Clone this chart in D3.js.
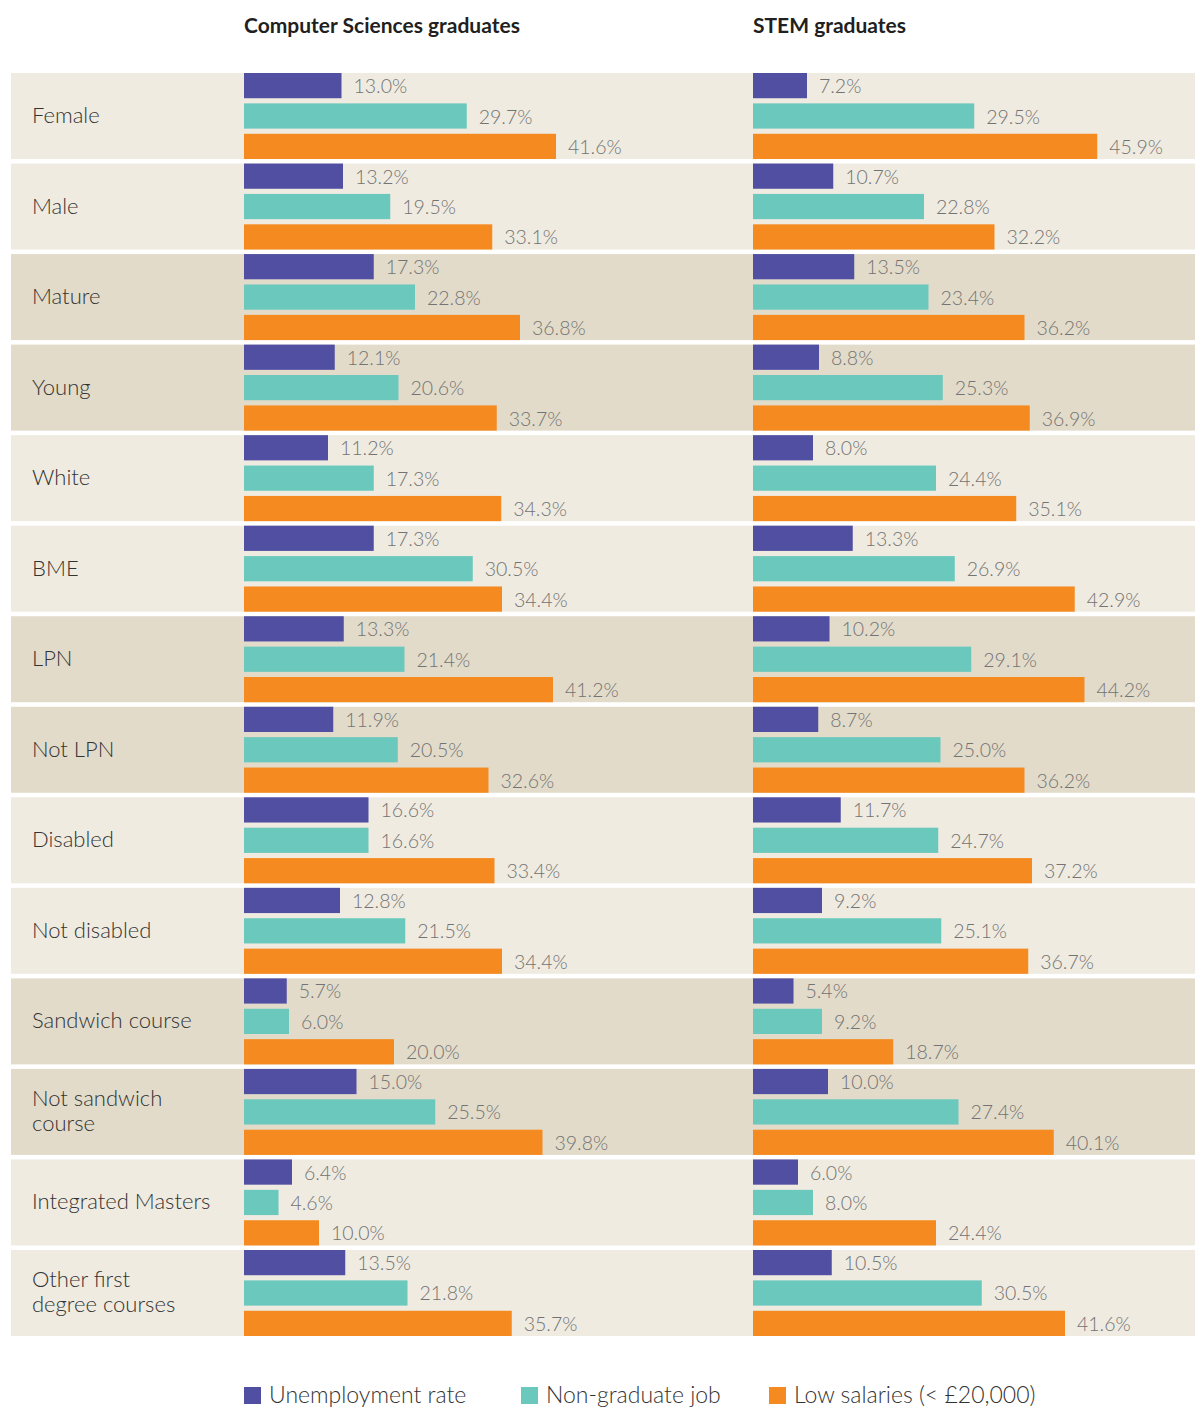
<!DOCTYPE html>
<html lang="en">
<head>
  <meta charset="UTF-8">
  <title>Computer Sciences vs STEM graduates</title>
  <script src="https://d3js.org/d3.v7.min.js"></script>
  <style>
    * { margin: 0; padding: 0; box-sizing: border-box; }
    body { background: #fff; font-family: 'Lato', 'Open Sans', sans-serif; }
    .head { font-weight: 700; font-size: 21px; fill: #231f20; }
    .cat { font-weight: 300; font-size: 22px; fill: #333; }
    .val { font-weight: 300; font-size: 19.5px; fill: #737373; }
    .leg { font-weight: 300; font-size: 23px; fill: #333; }
  </style>
</head>
<body>
  <svg id="chart" width="1195" height="1407"></svg>
  <script>
    // data
    var categories = ["Female", "Male", "Mature", "Young", "White", "BME", "LPN", "Not LPN",
      "Disabled", "Not disabled", "Sandwich course", "Not sandwich course",
      "Integrated Masters", "Other first degree courses"];
    var seriesNames = ["Unemployment rate", "Non-graduate job", "Low salaries (< £20,000)"];
    var panelTitles = ["Computer Sciences graduates", "STEM graduates"];

    var csUnemployment = [13.0, 13.2, 17.3, 12.1, 11.2, 17.3, 13.3, 11.9, 16.6, 12.8, 5.7, 15.0, 6.4, 13.5];
    var csNonGraduate  = [29.7, 19.5, 22.8, 20.6, 17.3, 30.5, 21.4, 20.5, 16.6, 21.5, 6.0, 25.5, 4.6, 21.8];
    var csLowSalary    = [41.6, 33.1, 36.8, 33.7, 34.3, 34.4, 41.2, 32.6, 33.4, 34.4, 20.0, 39.8, 10.0, 35.7];

    var stemUnemployment = [7.2, 10.7, 13.5, 8.8, 8.0, 13.3, 10.2, 8.7, 11.7, 9.2, 5.4, 10.0, 6.0, 10.5];
    var stemNonGraduate  = [29.5, 22.8, 23.4, 25.3, 24.4, 26.9, 29.1, 25.0, 24.7, 25.1, 9.2, 27.4, 8.0, 30.5];
    var stemLowSalary    = [45.9, 32.2, 36.2, 36.9, 35.1, 42.9, 44.2, 36.2, 37.2, 36.7, 18.7, 40.1, 24.4, 41.6];

    // two-line category labels
    var wrapped = {
      "Not sandwich course": ["Not sandwich", "course"],
      "Other first degree courses": ["Other first", "degree courses"]
    };

    var colors = ["#514fa2", "#6bc8bd", "#f58b20"];
    var panels = [
      { x0: 244, title: panelTitles[0], series: [csUnemployment, csNonGraduate, csLowSalary] },
      { x0: 753, title: panelTitles[1], series: [stemUnemployment, stemNonGraduate, stemLowSalary] }
    ];

    var svg = d3.select("#chart");

    var y = d3.scaleBand().domain(categories).range([73, 1336]).paddingInner(0.05).paddingOuter(0);
    var ySub = d3.scaleBand().domain([0, 1, 2]).range([0, y.bandwidth()]).paddingInner(0.17);
    var x = d3.scaleLinear().domain([0, 10]).range([0, 75]);
    var fmt = d3.format(".1f");

    // row backgrounds, shaded in pairs
    svg.selectAll("rect.row")
      .data(categories)
      .enter().append("rect")
      .attr("class", "row")
      .attr("x", 11)
      .attr("y", function(d) { return y(d); })
      .attr("width", 1195 - 11)
      .attr("height", y.bandwidth())
      .attr("fill", function(d, i) { return Math.floor(i / 2) % 2 ? "#e2dbca" : "#efebe1"; });

    // category labels
    var cat = svg.selectAll("text.cat")
      .data(categories)
      .enter().append("text")
      .attr("class", "cat")
      .attr("x", 32)
      .attr("y", function(d) { return y(d) + y.bandwidth() / 2 - 2; })
      .attr("dominant-baseline", "central");
    cat.each(function(d) {
      var lines = wrapped[d] || [d];
      var t = d3.select(this);
      lines.forEach(function(l, k) {
        t.append("tspan")
          .attr("x", 32)
          .attr("dy", k === 0 ? (-(lines.length - 1) * 12.5) + "px" : "25px")
          .text(l);
      });
    });

    panels.forEach(function(p) {
      svg.append("text")
        .attr("class", "head")
        .attr("x", p.x0)
        .attr("y", 33)
        .text(p.title);

      var g = svg.append("g").attr("transform", "translate(" + p.x0 + ",0)");

      p.series.forEach(function(vals, s) {
        g.selectAll("rect.s" + s)
          .data(vals)
          .enter().append("rect")
          .attr("class", "s" + s)
          .attr("x", 0)
          .attr("y", function(d, i) { return y(categories[i]) + ySub(s); })
          .attr("width", function(d) { return x(d); })
          .attr("height", ySub.bandwidth())
          .attr("fill", colors[s]);

        g.selectAll("text.v" + s)
          .data(vals)
          .enter().append("text")
          .attr("class", "val v" + s)
          .attr("x", function(d) { return x(d) + 12; })
          .attr("y", function(d, i) { return y(categories[i]) + ySub(s) + ySub.bandwidth() / 2; })
          .attr("dominant-baseline", "central")
          .text(function(d) { return fmt(d) + "%"; });
      });
    });

    // legend
    var legX = [244, 521, 769];
    var leg = svg.selectAll("g.leg")
      .data(seriesNames)
      .enter().append("g")
      .attr("transform", function(d, i) { return "translate(" + legX[i] + ",1387)"; });
    leg.append("rect")
      .attr("width", 17)
      .attr("height", 17)
      .attr("fill", function(d, i) { return colors[i]; });
    leg.append("text")
      .attr("class", "leg")
      .attr("x", 25)
      .attr("y", 16)
      .text(function(d) { return d; });
  </script>
</body>
</html>
